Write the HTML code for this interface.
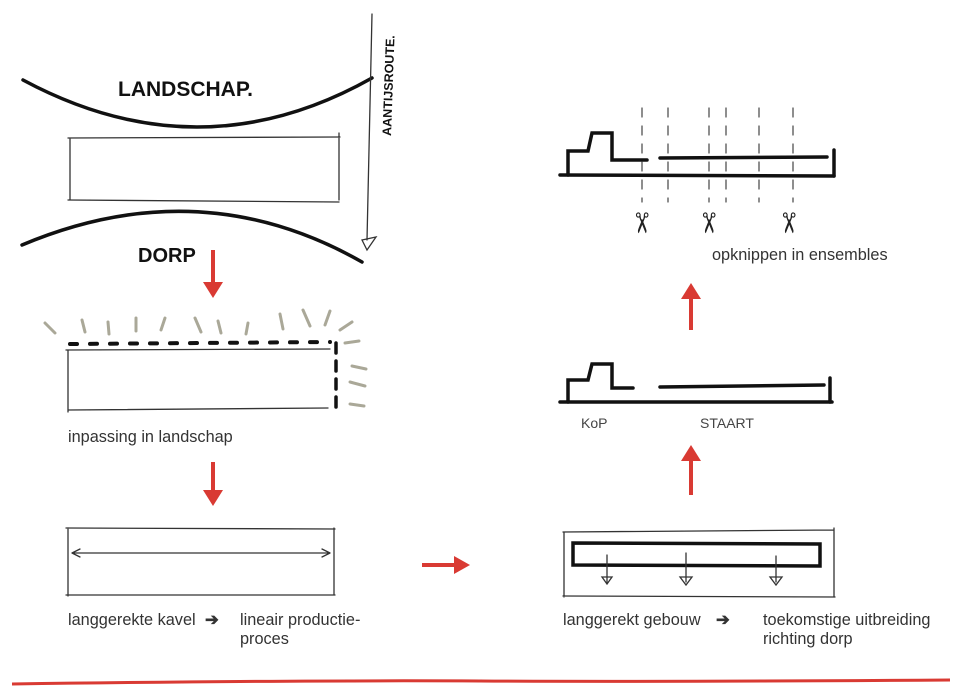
<!DOCTYPE html>
<html><head><meta charset="utf-8"><style>
html,body{margin:0;padding:0;background:#fff;}
svg{display:block;}
.t{font-family:"Liberation Sans",sans-serif;font-size:16.3px;fill:#333;}
.h{font-family:"Liberation Sans",sans-serif;font-weight:bold;fill:#111;}
</style></head><body>
<svg width="961" height="689" viewBox="0 0 961 689" xmlns="http://www.w3.org/2000/svg">
<rect width="961" height="689" fill="#fff"/>
<g fill="none" stroke="#111" stroke-linecap="round">
 <path d="M23,80 Q200,175 372,78" stroke-width="3.5"/>
 <path d="M22,245 Q200,170 362,262" stroke-width="3.5"/>
 <path d="M68,138 L340,137 M70,139 L70,200 M68,200 L339,202 M339,133 L339,200" stroke-width="1.3" stroke="#333"/>
 <path d="M372,14 L367,240" stroke-width="1.3" stroke="#333"/>
 <path d="M362,240 L376,237 L367,250 Z" stroke-width="1.3" stroke="#333"/>
 <path d="M66,350 L330,349 M68,350 L68,412 M68,410 L328,408" stroke-width="1.3" stroke="#333"/>
 <path d="M70,344 L330,342" stroke-width="4" stroke-dasharray="7,13"/>
 <path d="M336,343 L336,414" stroke-width="3.5" stroke-dasharray="10,8"/>
 <g stroke="#aaa898" stroke-width="3">
  <path d="M45,323 l10,10 M82,320 l3,12 M108,322 l1,12 M136,318 l0,13 M165,318 l-4,12 M195,318 l6,14 M218,321 l3,12 M248,323 l-2,11 M280,314 l3,15 M303,310 l7,16 M330,311 l-5,14 M352,322 l-12,8 M345,343 l14,-2 M352,366 l14,3 M350,382 l15,4 M350,404 l14,2"/>
 </g>
 <path d="M66,528 L335,529 M68,528 L68,596 M66,595 L335,595 M334,528 L334,595" stroke-width="1.3" stroke="#333"/>
 <path d="M72,553 L330,553 M72,553 l8,-4 m-8,4 l8,4 M330,553 l-8,-4 m8,4 l-8,4" stroke-width="1.3" stroke="#333"/>
 <path d="M563,532 L834,530 M564,532 L564,597 M563,596 L835,597 M834,528 L834,597" stroke-width="1.3" stroke="#333"/>
 <path d="M573,543 L820,544 L820,566 L573,565 Z" stroke-width="3.5"/>
 <g stroke-width="1.3" stroke="#333">
  <path d="M607,555 L607,582 M602,577 L612,577 L607,584 Z"/>
  <path d="M686,553 L686,582 M680,577 L692,577 L686,585 Z"/>
  <path d="M776,556 L776,582 M770,577 L782,577 L776,585 Z"/>
 </g>
 <path d="M560,402 L832,402" stroke-width="3.5"/>
 <path d="M568,402 L568,380 L588,380 L592,364 L612,364 L612,388 L633,388 M660,387 L824,385 M830,378 L830,402" stroke-width="3.5"/>
 <path d="M560,175 L834,176" stroke-width="3.5"/>
 <path d="M568,175 L568,151 L588,151 L592,133 L612,133 L612,160 L647,160 M660,158 L827,157 M834,150 L834,176" stroke-width="3.5"/>
 <g stroke="#444" stroke-width="1.2" stroke-dasharray="9,9">
  <path d="M642,108 L642,202 M668,108 L668,202 M709,108 L709,202 M726,108 L726,202 M759,108 L759,202 M793,108 L793,202"/>
 </g>
</g>
<g font-family="DejaVu Sans,sans-serif" font-size="28" fill="#222" text-anchor="middle">
 <text x="642" y="233" transform="rotate(90 642 223)">✂</text>
 <text x="709" y="233" transform="rotate(90 709 223)">✂</text>
 <text x="789" y="233" transform="rotate(90 789 223)">✂</text>
</g>
<g fill="#d93a33" stroke="#d93a33">
 <path d="M213,250 L213,284" stroke-width="4"/><path d="M203,282 L223,282 L213,298 Z" stroke="none"/>
 <path d="M213,462 L213,492" stroke-width="4"/><path d="M203,490 L223,490 L213,506 Z" stroke="none"/>
 <path d="M422,565 L456,565" stroke-width="4"/><path d="M454,556 L470,565 L454,574 Z" stroke="none"/>
 <path d="M691,495 L691,459" stroke-width="4"/><path d="M681,461 L701,461 L691,445 Z" stroke="none"/>
 <path d="M691,330 L691,297" stroke-width="4"/><path d="M681,299 L701,299 L691,283 Z" stroke="none"/>
 <path d="M12,684 Q300,680 480,681 T950,680" fill="none" stroke-width="3"/>
</g>
<text class="h" x="118" y="96" font-size="21">LANDSCHAP.</text>
<text class="h" x="138" y="262" font-size="20">DORP</text>
<text class="h" font-size="12.5" font-weight="normal" transform="translate(391,136) rotate(-88)">AANTIJSROUTE.</text>
<text class="t" x="68" y="442">inpassing in landschap</text>
<text class="t" x="68" y="625">langgerekte kavel</text>
<text class="t" x="205" y="625" font-weight="bold">➔</text>
<text class="t" x="240" y="625">lineair productie-</text>
<text class="t" x="240" y="644">proces</text>
<text class="t" x="563" y="625">langgerekt gebouw</text>
<text class="t" x="716" y="625" font-weight="bold">➔</text>
<text class="t" x="763" y="625">toekomstige uitbreiding</text>
<text class="t" x="763" y="644">richting dorp</text>
<text class="t" x="712" y="260">opknippen in ensembles</text>
<text x="581" y="428" font-family="Liberation Sans,sans-serif" font-size="14" fill="#444">KoP</text>
<text x="700" y="428" font-family="Liberation Sans,sans-serif" font-size="14" fill="#444">STAART</text>
</svg>
</body></html>
